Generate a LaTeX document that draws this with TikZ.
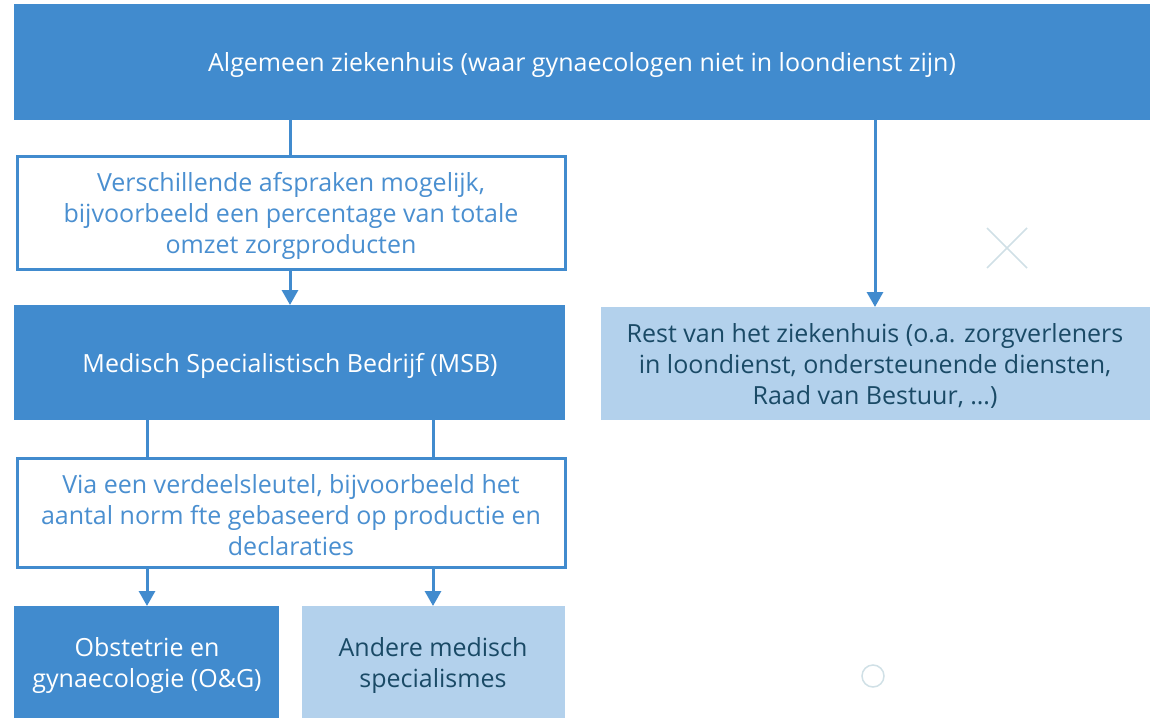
\documentclass[tikz,border=0pt]{standalone}
\usepackage{fontspec}
\setmainfont{Open Sans}
\definecolor{mblue}{HTML}{418BCE}
\definecolor{lblue}{HTML}{B3D1EC}
\definecolor{dtext}{HTML}{1A4A66}
\definecolor{btext}{HTML}{4A8FD0}
\definecolor{markgrey}{HTML}{D0E0E6}
\usetikzlibrary{arrows.meta}
\tikzset{
  txt/.style={align=center, font=\fontsize{25}{31}\selectfont},
  lbl/.style={yshift=-3.5pt, fill=none, draw=none},
  darkbox/.style={fill=mblue, draw=none, text=white, txt},
  lightbox/.style={fill=lblue, draw=none, text=dtext, txt},
  outbox/.style={fill=white, draw=mblue, line width=3pt, text=btext, txt},
  conn/.style={draw=mblue, line width=3pt},
  arr/.style={conn, -{Triangle[width=16pt,length=15pt]}},
  symb/.style={draw=markgrey, line width=1.5pt},
}
\begin{document}
\begin{tikzpicture}[x=1pt,y=-1pt]
\useasboundingbox (0,0) rectangle (1154,718);
% boxes
\path[darkbox] (14,4) rectangle (1150,120);
\node[darkbox, lbl] (top) at (582,62) {Algemeen ziekenhuis (waar gynaecologen niet in loondienst zijn)};
\coordinate (topL) at (290,120);
\coordinate (topR) at (875,120);

\path[outbox] (17,156) rectangle (565,269);
\node[outbox, lbl] (afs) at (291,212) {Verschillende afspraken mogelijk,\\bijvoorbeeld een percentage van totale\\omzet zorgproducten};
\coordinate (afsT) at (290,156);
\coordinate (afsB) at (290,269);

\path[darkbox] (14,305) rectangle (565,420);
\node[darkbox, lbl] (msb) at (290,362) {Medisch Specialistisch Bedrijf (MSB)};
\coordinate (msbT) at (290,305);
\coordinate (msbB1) at (147,420);
\coordinate (msbB2) at (433,420);

\path[lightbox] (601,307) rectangle (1150,420);
\node[lightbox, lbl] (rest) at (875,362) {Rest van het ziekenhuis (o.a. zorgverleners\\in loondienst, ondersteunende diensten,\\Raad van Bestuur, \dots)};
\coordinate (restT) at (875,307);

\path[outbox] (17,458) rectangle (565,567);
\node[outbox, lbl] (via) at (291,512) {Via een verdeelsleutel, bijvoorbeeld het\\aantal norm fte gebaseerd op productie en\\declaraties};
\coordinate (viaT1) at (147,458);
\coordinate (viaT2) at (433,458);
\coordinate (viaB1) at (147,567);
\coordinate (viaB2) at (433,567);

\path[darkbox] (14,606) rectangle (279,718);
\node[darkbox, lbl] (og) at (147,662) {Obstetrie en\\gynaecologie (O\&G)};
\coordinate (ogT) at (147,606);

\path[lightbox] (302,606) rectangle (565,718);
\node[lightbox, lbl] (and) at (433,662) {Andere medisch\\specialismes};
\coordinate (andT) at (433,606);

% connectors
\draw[conn] (topL) -- (afsT);
\draw[arr] (afsB) -- (msbT);
\draw[arr] (topR) -- (restT);
\draw[conn] (msbB1) -- (viaT1);
\draw[conn] (msbB2) -- (viaT2);
\draw[arr] (viaB1) -- (ogT);
\draw[arr] (viaB2) -- (andT);

% marks
\draw[symb] (987,228) -- (1027,268) (1027,228) -- (987,268);
\draw[symb] (873,676) circle (11);
\end{tikzpicture}
\end{document}
